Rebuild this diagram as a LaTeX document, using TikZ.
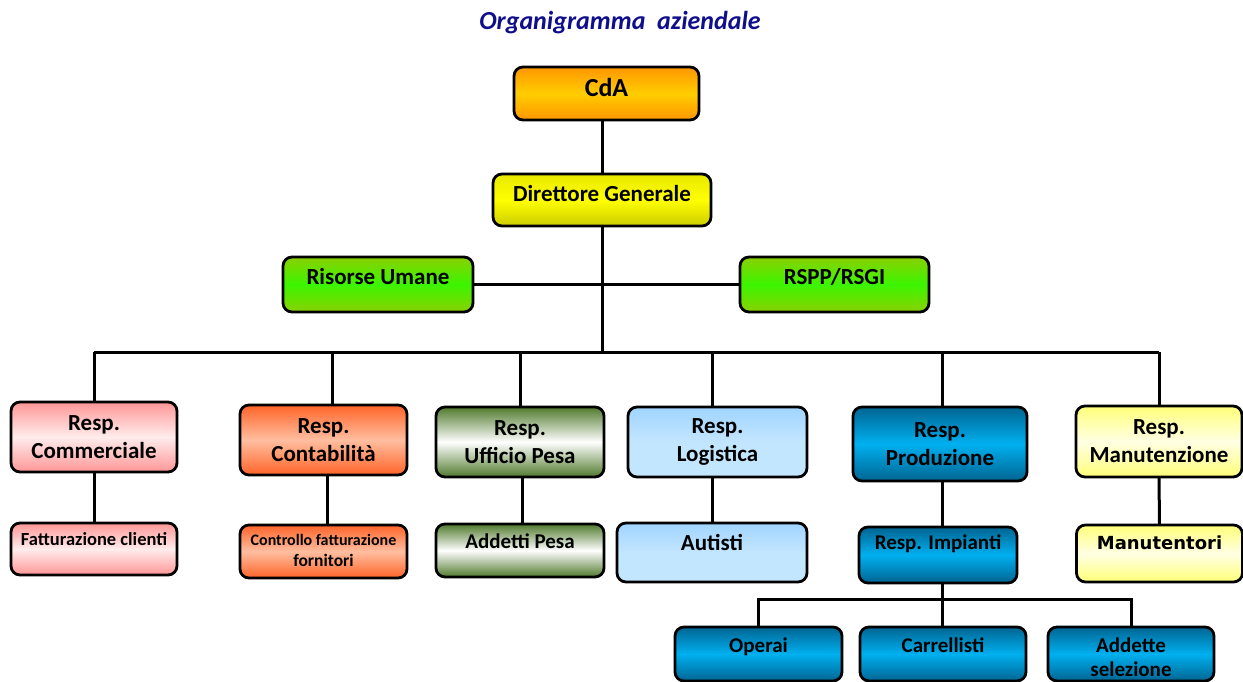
\documentclass[tikz,border=0pt]{standalone}
\usepackage{fontspec}
\setmainfont{Carlito}
\newfontfamily\wideface{DejaVu Sans}

% box gradient colours
\definecolor{cdaOut}{RGB}{255,150,0}
\definecolor{cdaMid}{RGB}{255,205,0}
\definecolor{dgTop}{RGB}{232,232,0}
\definecolor{dgMid}{RGB}{255,255,0}
\definecolor{dgBot}{RGB}{205,205,0}
\definecolor{grOut}{RGB}{138,208,0}
\definecolor{grMid}{RGB}{60,245,0}
\definecolor{pkOut}{RGB}{255,150,150}
\definecolor{pkMid}{RGB}{255,236,236}
\definecolor{orOut}{RGB}{255,100,40}
\definecolor{orMid}{RGB}{255,190,160}
\definecolor{dgrOut}{RGB}{80,122,45}
\definecolor{dgrMid}{RGB}{255,255,255}
\definecolor{lbTop}{RGB}{160,212,255}
\definecolor{lbMid}{RGB}{195,230,255}
\definecolor{tlOut}{RGB}{0,100,145}
\definecolor{tlMid}{RGB}{0,176,240}
\definecolor{ylOut}{RGB}{255,255,120}
\definecolor{ylMid}{RGB}{255,255,228}
\definecolor{titleBlue}{RGB}{15,15,140}

\tikzset{
  box/.style={draw=black, line width=2.8pt, rounded corners=9pt, inner sep=0pt,
    outer sep=0pt, align=center, font=\bfseries\fontsize{23}{28}\selectfont},
  link/.style={line width=3pt},
  % text hung from the top edge of a box: offset of its last baseline, font, text
  toptext/.style n args={3}{label={[anchor=base, inner sep=0pt, yshift=-#1,
    align=center, font=\bfseries#2]north:{#3}}},
  cdafill/.style={top color=cdaOut, bottom color=cdaOut, middle color=cdaMid},
  dgfill/.style={top color=dgTop, bottom color=dgBot, middle color=dgMid},
  grfill/.style={top color=grOut, bottom color=grOut, middle color=grMid},
  pkfill/.style={top color=pkOut, bottom color=pkOut, middle color=pkMid},
  orfill/.style={top color=orOut, bottom color=orOut, middle color=orMid},
  dgrfill/.style={top color=dgrOut, bottom color=dgrOut, middle color=dgrMid},
  lbfill/.style={top color=lbTop, bottom color=lbMid, middle color=lbMid},
  tlfill/.style={top color=tlOut, bottom color=tlOut, middle color=tlMid},
  ylfill/.style={top color=ylOut, bottom color=ylOut, middle color=ylMid},
}

\begin{document}
\begin{tikzpicture}[x=1pt, y=-1pt]
\useasboundingbox (0,0) rectangle (1243,682);

% title
\node[anchor=base, inner sep=0pt, text=titleBlue,
  font=\bfseries\itshape\fontsize{26}{30}\selectfont] (title) at (620,30)
  {Organigramma\ \ aziendale};

% top of the chart
\node[box, cdafill, minimum width=185pt, minimum height=53pt,
  toptext={30pt}{\fontsize{26}{30}\selectfont}{CdA}] (cda) at (606.5,93.5) {};
\node[box, dgfill, minimum width=218pt, minimum height=52pt,
  toptext={27.5pt}{\fontsize{23}{28}\selectfont}{Direttore Generale}] (dg) at (602,200) {};
\node[box, grfill, minimum width=190pt, minimum height=55pt,
  toptext={27.5pt}{\fontsize{23}{28}\selectfont}{Risorse Umane}] (ru) at (378,284.5) {};
\node[box, grfill, minimum width=189pt, minimum height=55pt,
  toptext={27.5pt}{\fontsize{23}{28}\selectfont}{RSPP/RSGI}] (rspp) at (834.5,284.5) {};

% department heads
\node[box, pkfill, minimum width=166pt, minimum height=70pt] (comm) at (94,437)
  {Resp.\\Commerciale};
\node[box, orfill, minimum width=167pt, minimum height=70pt] (cont) at (323.5,440)
  {Resp.\\Contabilità};
\node[box, dgrfill, minimum width=168pt, minimum height=70pt] (pesa) at (520,442)
  {Resp.\\Ufficio Pesa};
\node[box, lbfill, minimum width=179pt, minimum height=70pt] (log) at (717.5,442)
  {Resp.\\Logistica};
\node[box, tlfill, minimum width=174pt, minimum height=74pt] (prod) at (940,444)
  {Resp.\\Produzione};
\node[box, ylfill, minimum width=166pt, minimum height=71pt] (man) at (1159,441.5)
  {Resp.\\Manutenzione};

% staff under each head
\node[box, pkfill, minimum width=166pt, minimum height=52pt,
  toptext={22pt}{\fontsize{18.5}{22}\selectfont}{Fatturazione clienti}] (fatt) at (94,549) {};
\node[box, orfill, minimum width=167pt, minimum height=53pt,
  toptext={41pt}{\fontsize{16}{21}\selectfont}{Controllo fatturazione\\{\fontsize{17.5}{21}\selectfont fornitori}}]
  (ctrl) at (323.5,551.5) {};
\node[box, dgrfill, minimum width=168pt, minimum height=53pt,
  toptext={24pt}{\fontsize{21}{26}\selectfont}{Addetti Pesa}] (adp) at (520,550.5) {};
\node[box, lbfill, minimum width=190pt, minimum height=59pt,
  toptext={27pt}{\fontsize{23}{28}\selectfont}{Autisti}] (aut) at (712,552.5) {};
\node[box, tlfill, minimum width=158pt, minimum height=56pt,
  toptext={22pt}{\fontsize{21}{26}\selectfont}{Resp. Impianti}] (imp) at (938,555) {};
\node[box, ylfill, minimum width=166pt, minimum height=57pt,
  toptext={24pt}{\wideface\fontsize{18}{22}\selectfont}{Manutentori}] (mnt) at (1159.5,553.5) {};

% production floor
\node[box, tlfill, minimum width=167pt, minimum height=54pt,
  toptext={25pt}{\fontsize{21}{24}\selectfont}{Operai}] (ope) at (758.5,654) {};
\node[box, tlfill, minimum width=166pt, minimum height=54pt,
  toptext={25pt}{\fontsize{21}{24}\selectfont}{Carrellisti}] (car) at (943,654) {};
\node[box, tlfill, minimum width=166pt, minimum height=54pt,
  toptext={49pt}{\fontsize{21}{24}\selectfont}{Addette\\selezione}] (add) at (1131,654) {};

% connectors
\coordinate (bus) at (602,352);
\coordinate (sub) at (942,599);
\draw[link] (cda.south -| dg.north) -- (dg.north);
\draw[link] (dg.south) -- (bus);
\draw[link] (ru.east) -- (rspp.west);
\draw[link] (bus -| comm.north) -- (bus -| man.north);
\draw[link] (bus -| comm.north) -- (comm.north);
\draw[link] ([xshift=8.5pt]cont.north |- bus) -- ([xshift=8.5pt]cont.north);
\draw[link] (bus -| pesa.north) -- (pesa.north);
\draw[link] (bus -| aut.north) -- (log.north -| aut.north);
\draw[link] (bus -| sub) -- (prod.north -| sub);
\draw[link] (bus -| man.north) -- (man.north);

\draw[link] (comm.south) -- (fatt.north);
\draw[link] ([xshift=3.5pt]cont.south) -- ([xshift=3.5pt]ctrl.north);
\draw[link] ([xshift=2.5pt]pesa.south) -- ([xshift=2.5pt]adp.north);
\draw[link] (log.south -| aut.north) -- (aut.north);
\draw[link] (prod.south -| sub) -- (imp.north -| sub);
\draw[link] (man.south) -- (mnt.north);

\draw[link] (imp.south -| sub) -- (sub);
\draw[link] (ope.north) |- (sub) -| (add.north);
\draw[link] (sub) -- (car.north -| sub);
\end{tikzpicture}
\end{document}
